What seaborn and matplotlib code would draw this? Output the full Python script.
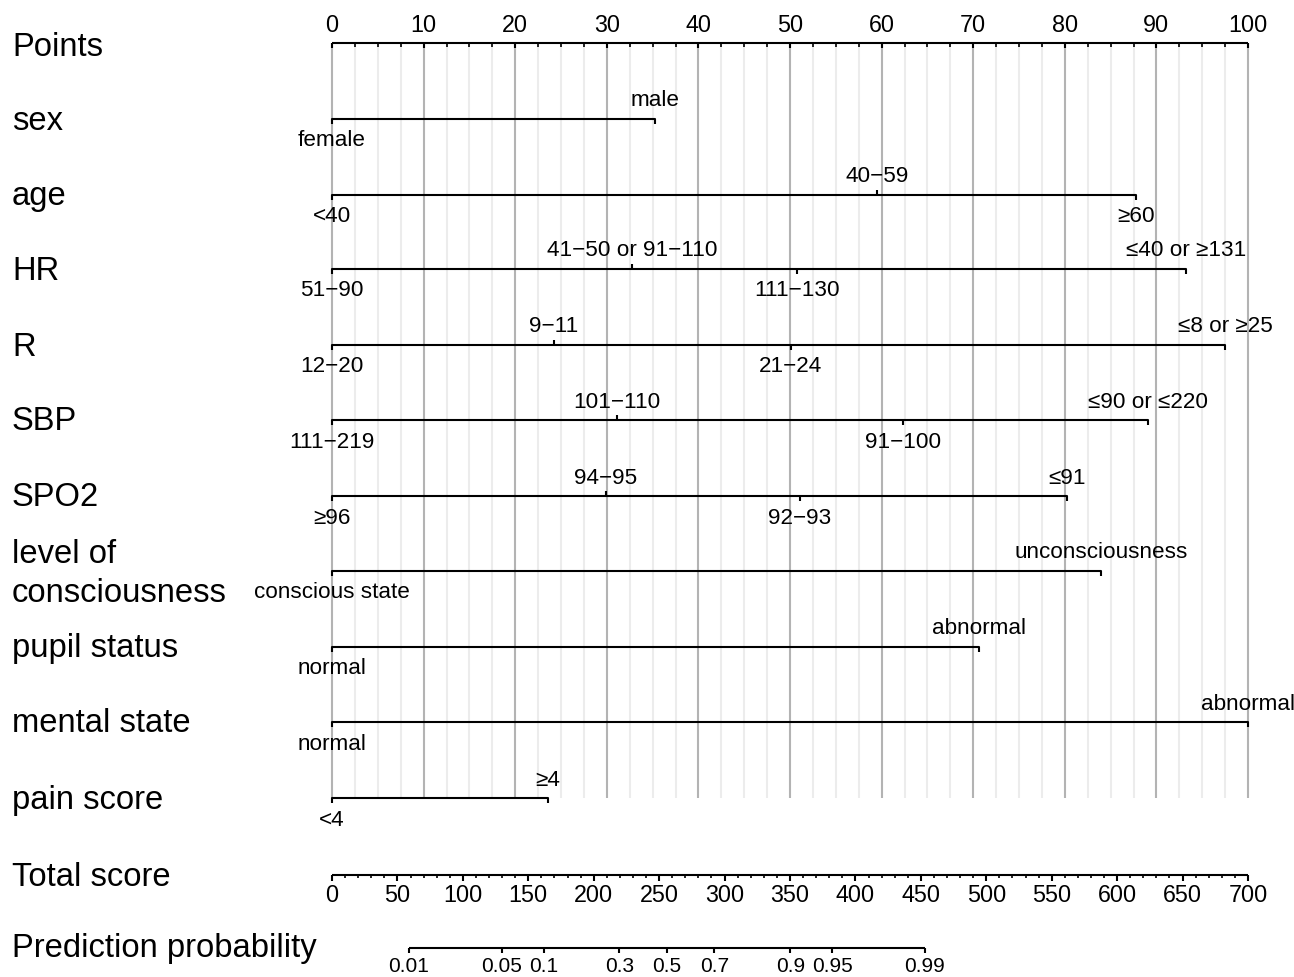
import numpy as np
import pandas as pd
import matplotlib
matplotlib.use("Agg")
import matplotlib.pyplot as plt
import seaborn as sns

# ---------------- data (points scale 0-100) ----------------
row_names = ["sex", "age", "HR", "R", "SBP", "SPO2", "level of\nconsciousness",
             "pupil status", "mental state", "pain score"]

sex_levels = ["female", "male"]
sex_points = [0, 35.3]
age_levels = ["<40", "40\u221259", "\u226560"]
age_points = [0, 59.5, 87.8]
hr_levels = ["51\u221290", "41\u221250 or 91\u2212110", "111\u2212130", "\u226440 or \u2265131"]
hr_points = [0, 32.75, 50.8, 93.2]
r_levels = ["12\u221220", "9\u221211", "21\u221224", "\u22648 or \u226525"]
r_points = [0, 24.2, 50.1, 97.5]
sbp_levels = ["111\u2212219", "101\u2212110", "91\u2212100", "\u226490 or \u2264220"]
sbp_points = [0, 31.1, 62.3, 89.1]
spo2_levels = ["\u226596", "94\u221295", "92\u221293", "\u226491"]
spo2_points = [0, 29.9, 51.1, 80.2]
loc_levels = ["conscious state", "unconsciousness"]
loc_points = [0, 84.0]
pupil_levels = ["normal", "abnormal"]
pupil_points = [0, 70.6]
mental_levels = ["normal", "abnormal"]
mental_points = [0, 100]
pain_levels = ["<4", "\u22654"]
pain_points = [0, 23.6]

points_ticks = list(range(0, 101, 10))
total_ticks = list(range(0, 701, 50))
total_max = 700
prob_ticks = [0.01, 0.05, 0.1, 0.3, 0.5, 0.7, 0.9, 0.95, 0.99]
prob_tick_labels = ["0.01", "0.05", "0.1", "0.3", "0.5", "0.7", "0.9", "0.95", "0.99"]
lp_intercept = -5.965
lp_slope = 0.02331

rows = [(sex_levels, sex_points), (age_levels, age_points), (hr_levels, hr_points),
        (r_levels, r_points), (sbp_levels, sbp_points), (spo2_levels, spo2_points),
        (loc_levels, loc_points), (pupil_levels, pupil_points),
        (mental_levels, mental_points), (pain_levels, pain_points)]

# ---------------- layout ----------------
sns.set_theme(style="white")
plt.rcParams['font.family'] = ['Liberation Sans', 'DejaVu Sans']
plt.rcParams['text.color'] = 'black'

W, H = 1294, 978
fig = plt.figure(figsize=(W / 100, H / 100), dpi=100)
ax = fig.add_axes([0, 0, 1, 1])
x0_px, x100_px = 332, 1248
ppx = (x100_px - x0_px) / 100.0
ax.set_xlim(-x0_px / ppx, (W - x0_px) / ppx)
ax.set_ylim(H, 0)
ax.axis("off")

y_points = 44
row_y = [120, 196, 270, 346, 421, 497, 572, 648, 723, 799]
y_total = 876
y_prob = 949
label_x = 12 / ppx - x0_px / ppx

# gridlines
minor = [v for v in np.arange(0, 100.01, 2.5) if v % 10 != 0]
ax.vlines(minor, y_points, row_y[-1], color="#ececec", lw=1.5, zorder=0)
ax.vlines(points_ticks, y_points, row_y[-1], color="#b3b3b3", lw=1.5, zorder=0)

big = 23.6
small = 16.2

# Points axis
ax.text(label_x, y_points + 3, "Points", fontsize=big, va="center", ha="left")
ax.hlines(y_points, 0, 100, color="black", lw=1.5)
ax.vlines(points_ticks, y_points, y_points + 5, color="black", lw=1.5)
ax.vlines(minor, y_points, y_points + 4, color="black", lw=1.2)
for t in points_ticks:
    ax.text(t, y_points - 18, str(t), fontsize=16.8, ha="center", va="center")

# Variable rows
seg = []
for i, ((levels, pts), y) in enumerate(zip(rows, row_y)):
    seg.append(pd.DataFrame({"x": [min(pts), max(pts)], "y": [y, y], "row": i}))
seg_df = pd.concat(seg, ignore_index=True)
sns.lineplot(data=seg_df, x="x", y="y", units="row", estimator=None, sort=False,
             color="black", lw=1.5, ax=ax, legend=False)

for i, ((levels, pts), y, name) in enumerate(zip(rows, row_y, row_names)):
    ax.text(label_x, y + 2 if "\n" in name else y + 1, name, fontsize=big,
            va="center", ha="left", linespacing=1.32)
    order = np.argsort(pts)
    for k, j in enumerate(order):
        v = pts[j]
        above = (k % 2 == 1)
        end = (k == 0 or k == len(pts) - 1)
        if end or not above:
            ax.vlines(v, y, y + 5, color="black", lw=1.5)
        else:
            ax.vlines(v, y - 5, y, color="black", lw=1.5)
        if above:
            ax.text(v, y - 19, levels[j], fontsize=small, ha="center", va="center")
        else:
            ax.text(v, y + 21, levels[j], fontsize=small, ha="center", va="center")

# Total score axis
ax.text(label_x, y_total + 1, "Total score", fontsize=big, va="center", ha="left")
scale = 100.0 / total_max
ax.hlines(y_total, 0, 100, color="black", lw=1.5)
ax.vlines([t * scale for t in total_ticks], y_total, y_total + 6, color="black", lw=1.5)
tminor = [t for t in range(0, total_max + 1, 10) if t % 50 != 0]
ax.vlines([t * scale for t in tminor], y_total, y_total + 3, color="black", lw=1.2)
for t in total_ticks:
    ax.text(t * scale, y_total + 20, str(t), fontsize=16.8, ha="center", va="center")

# Prediction probability axis
ax.text(label_x, y_prob, "Prediction probability", fontsize=big, va="center", ha="left")
prob_tot = [(np.log(p / (1 - p)) - lp_intercept) / lp_slope for p in prob_ticks]
prob_x = [t * scale for t in prob_tot]
ax.hlines(y_prob, prob_x[0], prob_x[-1], color="black", lw=1.5)
ax.vlines(prob_x, y_prob, y_prob + 5, color="black", lw=1.5)
for xx, lab in zip(prob_x, prob_tick_labels):
    ax.text(xx, y_prob + 18, lab, fontsize=15, ha="center", va="center")

fig.savefig("out.png", dpi=100)
